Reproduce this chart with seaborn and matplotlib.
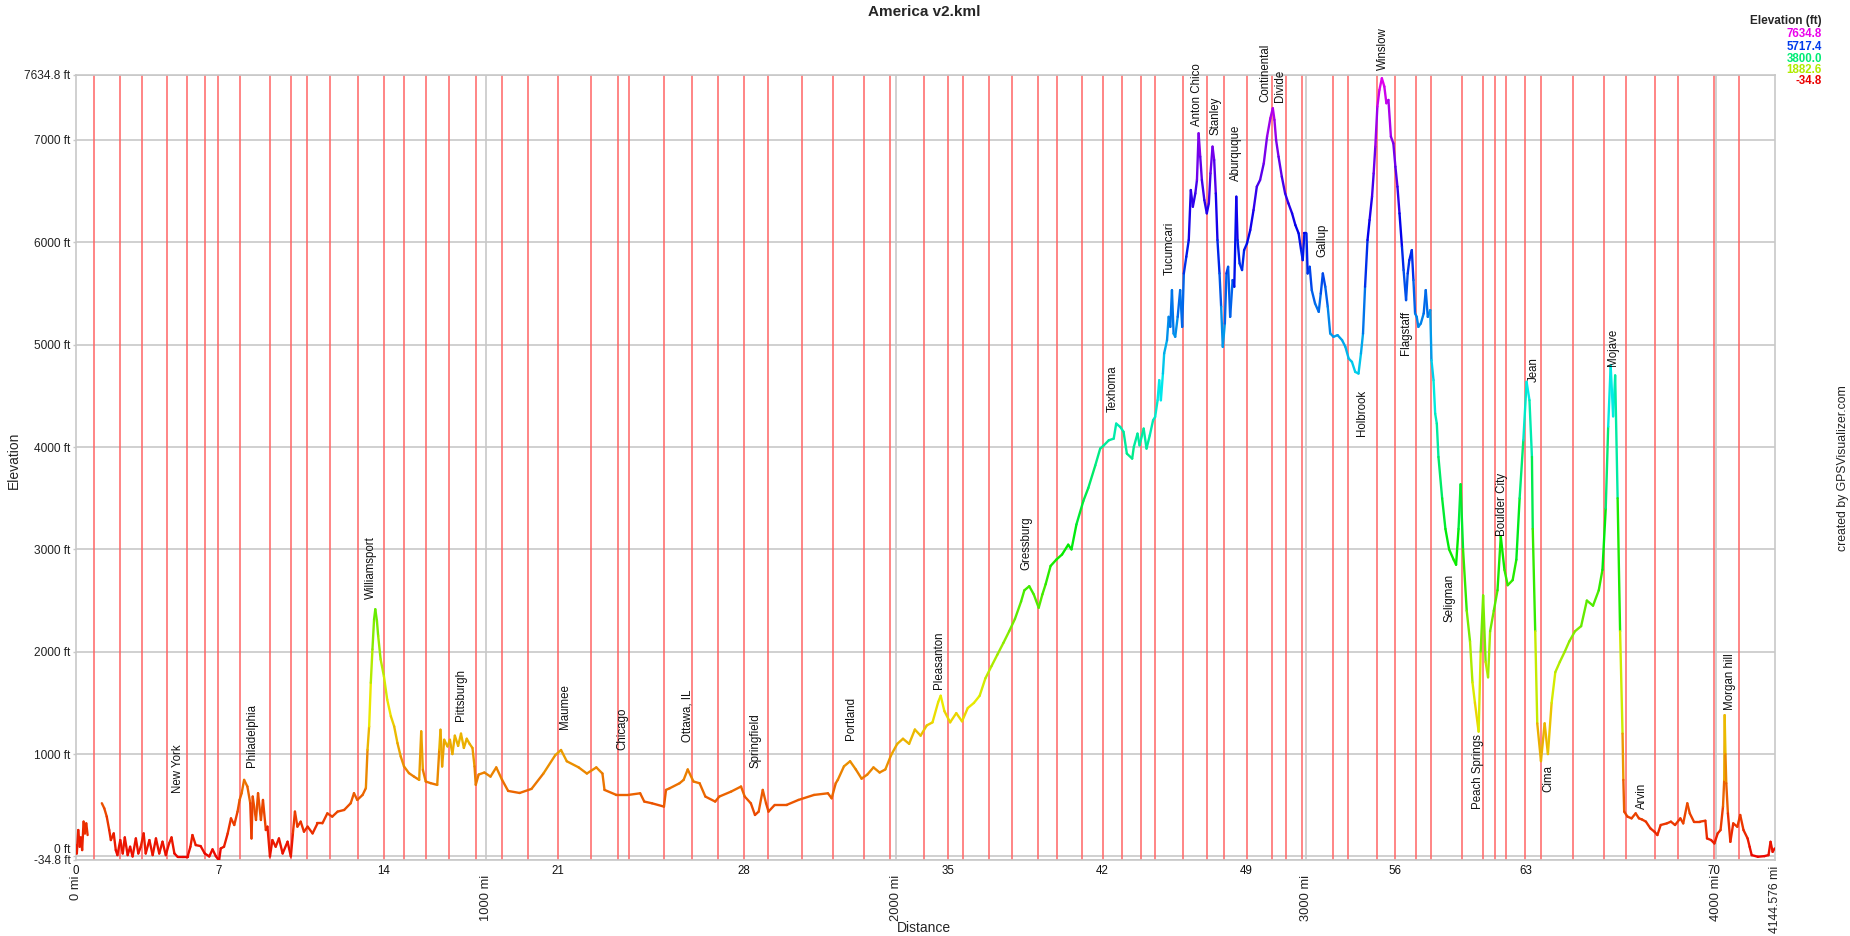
import colorsys
import numpy as np
import pandas as pd
import matplotlib
matplotlib.use("Agg")
import matplotlib.pyplot as plt
import seaborn as sns

title = "America v2.kml"
x_max = 4144.576
y_min, y_max = -34.8, 7634.8
nan = float("nan")

track_mi = [0, 2, 5.5, 9, 12, 15, 18.5, 21.8, 25, 28.3, nan,
    63, 69, 75, 81, 85, 92, 97, 101, 108, 114, 119, 126, 132, 138, 146, 152, 158, 165, 170, 179,
    187, 195, 203, 211, 219, 227, 233, 240, 248, 260, 272, 279, 284, 292, 304, 314, 325, 333, 341, 349,
    353, 361, 370, 378, 386, 394, 399, 404, 410, 418, 425, 428, 431, 439, 444, 451, 456, 463, 467, 473,
    479, 487, 495, 504, 516, 524, 529, 534, 540, 548, 556, 565, 577, 589, 601, 613, 625, 638, 654, 670,
    678, 686, 699, 707, 711, 715, 719, 723, 727, 730, 734, 737, 743, 751, 759, 768, 776, 784, 792, 800,
    812, 824, 837, 842, 846, 853, 865, 881, 886, 889, 893, 898, 906, 912, 918, 924, 932, 939, 946, 953,
    960, 967, 972, 975, 982, 996, 1011, 1025, 1039, 1054, 1082, 1111, 1140, 1169, 1183, 1197, 1226, 1246, 1269, 1284,
    1289, 1318, 1347, 1376, 1386, 1405, 1434, 1439, 1448, 1472, 1482, 1492, 1506, 1521, 1535, 1559, 1569, 1598, 1622, 1631,
    1646, 1656, 1665, 1675, 1683, 1689, 1704, 1733, 1762, 1800, 1834, 1843, 1853, 1858, 1873, 1888, 1902, 1916, 1930, 1945,
    1960, 1974, 1988, 2003, 2017, 2032, 2046, 2060, 2075, 2089, 2103, 2109, 2118, 2132, 2147, 2161, 2175, 2190, 2204, 2218,
    2233, 2247, 2262, 2276, 2290, 2305, 2313, 2325, 2336, 2348, 2357, 2365, 2377, 2391, 2405, 2420, 2428, 2440, 2457, 2469,
    2486, 2498, 2507, 2519, 2531, 2537, 2547, 2555, 2563, 2576, 2580, 2589, 2594, 2604, 2611, 2619, 2627, 2632, 2638, 2642,
    2646, 2651, 2654, 2661, 2665, 2669, 2673, 2677, 2681, 2687, 2693, 2698, 2702, 2708, 2714, 2719, 2724, 2730, 2734, 2738,
    2742, 2746, 2752, 2758, 2763, 2767, 2772, 2776, 2780, 2784, 2789, 2793, 2797, 2802, 2806, 2810, 2815, 2821, 2825, 2830,
    2833, 2838, 2844, 2849, 2856, 2864, 2872, 2880, 2888, 2897, 2905, 2913, 2919, 2923, 2927, 2933, 2941, 2949, 2957, 2966,
    2974, 2982, 2988, 2992, 2996, 3001, 3004, 3009, 3014, 3022, 3031, 3036, 3041, 3047, 3053, 3059, 3067, 3077, 3088, 3096,
    3104, 3112, 3120, 3128, 3134, 3139, 3144, 3150, 3155, 3161, 3165, 3169, 3174, 3179, 3185, 3191, 3196, 3201, 3207, 3213,
    3218, 3223, 3228, 3234, 3238, 3244, 3248, 3252, 3258, 3262, 3266, 3270, 3274, 3280, 3287, 3292, 3297, 3303, 3306, 3311,
    3315, 3319, 3323, 3332, 3340, 3349, 3360, 3366, 3372, 3377, 3383, 3392, 3400, 3406, 3412, 3421, 3426, 3432, 3438, 3444,
    3449, 3458, 3467, 3475, 3484, 3492, 3504, 3513, 3521, 3530, 3538, 3545, 3551, 3553, 3559, 3564, 3573, 3582, 3590, 3599,
    3608, 3619, 3631, 3642, 3656, 3671, 3685, 3700, 3714, 3723, 3731, 3737, 3743, 3749, 3754, 3760, 3766, 3772, 3774, 3776,
    3784, 3794, 3804, 3812, 3819, 3829, 3840, 3850, 3857, 3865, 3880, 3890, 3900, 3913, 3920, 3930, 3936, 3946, 3961, 3974,
    3978, 3988, 3996, 4004, 4011, 4017, 4020, 4021, 4023, 4025, 4029, 4035, 4042, 4052, 4059, 4067, 4077, 4082, 4087, 4102,
    4118, 4128, 4133, 4138, 4143]

track_ft = [111, 29, 258, 95, 186, 62, 340, 225, 323, 209, nan,
    520, 470, 389, 258, 160, 225, 62, 13, 160, 29, 186, 13, 95, 0, 176, 29, 95, 225, 29, 160,
    13, 176, 29, 144, 13, 127, 186, 29, -5, -5, -5, 95, 209, 111, 101, 29, 0, 69, 3, -40,
    78, 95, 225, 372, 307, 438, 552, 618, 748, 683, 520, 176, 585, 356, 618, 356, 552, 258, 291, 0,
    160, 95, 176, 29, 144, 0, 225, 438, 291, 340, 242, 291, 225, 323, 323, 421, 389, 438, 454, 520,
    618, 552, 601, 667, 1042, 1271, 1696, 2023, 2317, 2415, 2300, 2154, 1925, 1761, 1533, 1369, 1271, 1108, 977, 879,
    814, 781, 748, 1222, 846, 732, 716, 699, 1042, 1238, 879, 1140, 1075, 1140, 1000, 1180, 1080, 1200, 1060, 1150,
    1100, 1060, 880, 700, 800, 820, 780, 870, 750, 640, 620, 660, 810, 990, 1040, 930, 870, 810, 870, 810,
    650, 601, 601, 617, 536, 519, 487, 650, 666, 715, 748, 850, 732, 715, 585, 536, 585, 634, 683, 585,
    519, 405, 438, 650, 519, 438, 503, 503, 552, 601, 617, 568, 715, 748, 880, 930, 850, 760, 800, 870,
    820, 850, 990, 1100, 1150, 1100, 1240, 1180, 1280, 1310, 1510, 1570, 1420, 1310, 1400, 1320, 1450, 1500, 1570, 1740,
    1860, 1970, 2087, 2200, 2320, 2490, 2600, 2640, 2560, 2430, 2560, 2660, 2838, 2900, 2950, 3046, 3000, 3243, 3474, 3600,
    3820, 3985, 4017, 4066, 4082, 4229, 4196, 4148, 3936, 3887, 4001, 4131, 4017, 4180, 3985, 4115, 4262, 4294, 4457, 4653,
    4457, 4718, 4914, 5044, 5272, 5174, 5533, 5109, 5077, 5272, 5533, 5174, 5696, 5859, 6022, 6511, 6348, 6478, 6609, 7065,
    6837, 6609, 6413, 6283, 6381, 6674, 6935, 6804, 6478, 6022, 5696, 5370, 4979, 5207, 5696, 5761, 5272, 5631, 5566, 6446,
    6022, 5794, 5729, 5924, 5989, 6120, 6315, 6544, 6609, 6772, 7033, 7212, 7310, 7196, 7000, 6837, 6641, 6478, 6381, 6283,
    6169, 6087, 5924, 5826, 6087, 6087, 5696, 5761, 5533, 5403, 5321, 5500, 5696, 5566, 5370, 5109, 5077, 5093, 5044, 4979,
    4865, 4832, 4734, 4718, 4914, 5109, 5566, 6022, 6218, 6446, 6674, 6935, 7326, 7489, 7603, 7522, 7359, 7391, 7033, 6967,
    6739, 6544, 6283, 5957, 5729, 5435, 5696, 5826, 5924, 5631, 5305, 5272, 5174, 5207, 5305, 5533, 5272, 5337, 4848, 4653,
    4327, 4229, 3903, 3500, 3200, 3000, 2900, 2850, 3200, 3636, 3000, 2400, 2100, 1700, 1500, 1220, 2000, 2550, 1900, 1750,
    2200, 2400, 2600, 3127, 2800, 2650, 2700, 2900, 3500, 4066, 4637, 4457, 3903, 3200, 2200, 1300, 931, 1300, 1000, 1500,
    1800, 1900, 2000, 2100, 2200, 2250, 2500, 2450, 2600, 2800, 3400, 4200, 4800, 4300, 4700, 3500, 2200, 1200, 748, 438,
    389, 372, 421, 372, 362, 340, 274, 241, 209, 307, 323, 340, 307, 372, 323, 519, 421, 340, 340, 349,
    176, 160, 127, 225, 258, 487, 748, 1380, 1000, 715, 421, 143, 323, 290, 405, 258, 176, 94, 13, -3,
    3, 13, 143, 45, 78]

waypoint_mi = [44.4, 107.8, 161.4, 222.4, 271.1, 315.0, 346.7, 400.3, 473.5, 524.6, 563.6, 619.7,
    688.0, 751.3, 800.1, 853.7, 909.8, 975.6, 1039.0, 1102.4, 1175.5, 1255.9, 1321.7, 1348.6,
    1433.9, 1502.1, 1565.5, 1628.9, 1687.4, 1770.3, 1845.8, 1921.4, 1984.8, 2067.7, 2126.2,
    2162.7, 2226.1, 2282.2, 2345.6, 2391.9, 2452.8, 2504.0, 2550.3, 2596.6, 2631.2, 2699.0,
    2757.5, 2799.9, 2855.0, 2915.9, 2950.5, 2990.8, 3065.1, 3101.2, 3174.3, 3218.2, 3269.4,
    3306.0, 3381.5, 3432.7, 3462.0, 3488.8, 3535.1, 3574.1, 3652.1, 3727.7, 3781.3, 3852.0,
    3908.1, 3995.8, 4056.8]
day_labels = list(range(0, 71, 7))

distance_ticks = [0, 1000, 2000, 3000, 4000]
distance_tick_labels = ["0 mi", "1000 mi", "2000 mi", "3000 mi", "4000 mi"]
end_label = "4144.576 mi"

place_names = ["New York", "Philadelphia", "Williamsport", "Pittsburgh", "Maumee", "Chicago",
    "Ottawa, IL", "Springfield", "Portland", "Pleasanton", "Gressburg", "Texhoma", "Tucumcari",
    "Anton Chico", "Stanley", "Aburquque", "Continental\nDivide", "Gallup", "Holbrook", "Winslow",
    "Flagstaff", "Seligman", "Peach Springs", "Boulder City", "Jean", "Cima", "Mojave", "Arvin",
    "Morgan hill"]
place_mi = [248, 430, 719, 938, 1192, 1333, 1492, 1657, 1891, 2106, 2318, 2528, 2667, 2735, 2779,
    2829, 2919, 3039, 3137, 3187, 3244, 3349, 3420, 3478, 3556, 3592, 3749, 3820, 4034]
place_ft = [620, 875, 2513, 1326, 1248, 1042, 1121, 866, 1140, 1640, 2797, 4346, 5683, 7140, 7052,
    6601, 7375, 5856, 4111, 7679, 4895, 2287, 464, 3130, 4640, 633, 4787, 464, 1434]

legend_values = [7634.8, 5717.4, 3800.0, 1882.6, -34.8]


def elev_color(f):
    h = 300.0 * (f - y_min) / (y_max - y_min)
    h = min(max(h, 0.0), 300.0)
    return colorsys.hsv_to_rgb(h / 360.0, 1.0, 0.92)


sns.set_theme(style="white")
plt.rcParams["font.family"] = ["Liberation Sans", "DejaVu Sans"]

W, H = 1850, 936
fig = plt.figure(figsize=(W / 100, H / 100), dpi=100)
fig.patch.set_facecolor("white")
ax_l, ax_r, ax_t, ax_b = 76, 1775.3, 75, 860
ax = fig.add_axes([ax_l / W, 1 - ax_b / H, (ax_r - ax_l) / W, (ax_b - ax_t) / H])
ax.set_facecolor("white")
ax.set_xlim(0, x_max)
ax.set_ylim(y_min, y_max)

grid_c = "#c8c8c8"
yt = [y_min, 0] + list(range(1000, 8000, 1000)) + [y_max]
for y in yt:
    ax.axhline(y, color=grid_c, lw=1.2, zorder=1)
for x in distance_ticks[1:]:
    ax.axvline(x, color=grid_c, lw=1.2, zorder=1)
for x in waypoint_mi:
    ax.axvline(x, color="#ff6464", lw=1.1, zorder=2)

# gradient-coloured track: one two-point group per segment
rows, pal = [], {}
for i in range(len(track_mi) - 1):
    x0, y0, x1, y1 = track_mi[i], track_ft[i], track_mi[i + 1], track_ft[i + 1]
    if any(np.isnan(v) for v in (x0, y0, x1, y1)):
        continue
    key = f"s{i}"
    rows.append((x0, y0, key))
    rows.append((x1, y1, key))
    pal[key] = elev_color(0.5 * (y0 + y1))
df = pd.DataFrame(rows, columns=["mi", "ft", "seg"])
sns.lineplot(data=df, x="mi", y="ft", hue="seg", palette=pal, legend=False, sort=False,
             estimator=None, lw=1.7, solid_capstyle="round", ax=ax, zorder=3)
ax.set_xlim(0, x_max)
ax.set_ylim(y_min, y_max)

for sp in ax.spines.values():
    sp.set_color(grid_c)
    sp.set_linewidth(1.2)
    sp.set_visible(True)

def ylab(v):
    return f"{v:g} ft" if float(v).is_integer() else f"{v:.1f} ft"
ax.set_yticks(yt)
ax.set_yticklabels([ylab(v) for v in yt])
ax.tick_params(axis="y", length=2.5, color=grid_c, width=1, pad=1.5, labelsize=8.6,
               labelcolor="#222222", left=True)
for lab in ax.get_yticklabels():
    if lab.get_text() == "0 ft":
        lab.set_va("bottom")

ax.set_xticks(distance_ticks)
ax.set_xticklabels(distance_tick_labels, rotation=90, va="top", ha="center")
ax.tick_params(axis="x", length=0, pad=11, labelsize=9.3, labelcolor="#222222", bottom=True)
ax.set_xlabel("")
ax.set_ylabel("")
# end-of-track distance label, kept inside the figure
ax.text(x_max, -6.0 / (ax_b - ax_t), end_label, transform=ax.get_xaxis_transform(),
        rotation=90, ha="center", va="top", fontsize=8.8, color="#222222", clip_on=False)

day_pos = [0.0] + [waypoint_mi[k - 1] for k in day_labels[1:]]
for k, x in zip(day_labels, day_pos):
    ax.text(x, -10.5 / (ax_b - ax_t), str(k), transform=ax.get_xaxis_transform(),
            ha="center", va="center", fontsize=8.3, color="#111111", clip_on=False)

for name, x, y in zip(place_names, place_mi, place_ft):
    ax.text(x, y, name, rotation=90, ha="center", va="bottom", fontsize=8.3,
            color="#111111", multialignment="left", zorder=5, clip_on=False,
            linespacing=1.25)

fig.text(924 / W, 1 - 12 / H, title, ha="center", va="center", fontsize=11, weight="bold")
fig.text(924 / W, 1 - 928 / H, "Distance", ha="center", va="center", fontsize=10)
fig.text(14 / W, 1 - 460 / H, "Elevation", ha="center", va="center", fontsize=10, rotation=90)
fig.text(1843 / W, 1 - 468 / H, "created by GPSVisualizer.com", ha="center", va="center",
         fontsize=8.8, rotation=90, color="#222222")

fig.text(1822 / W, 1 - 21 / H, "Elevation (ft)", ha="right", va="center", fontsize=8.5,
         weight="bold")
for v, yy in zip(legend_values, [34, 46.5, 58.5, 70, 81.5]):
    fig.text(1822 / W, 1 - yy / H, f"{v:.1f}", ha="right", va="center", fontsize=8.3,
             weight="bold", color=elev_color(v))

fig.savefig("out.png", dpi=100, facecolor="white")
